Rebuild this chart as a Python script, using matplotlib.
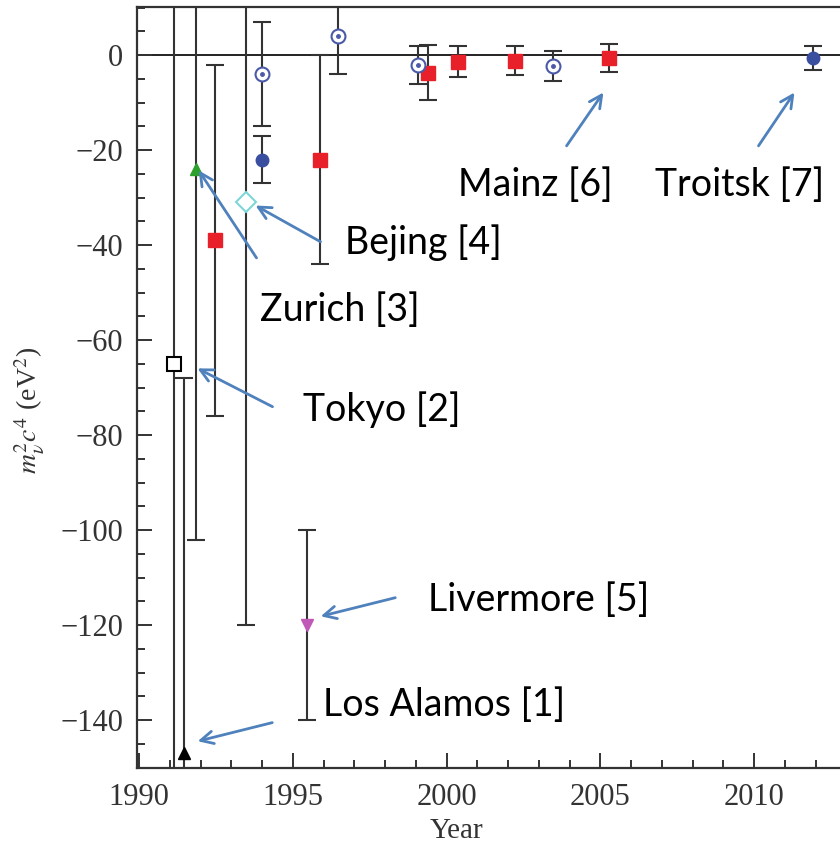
import matplotlib
matplotlib.use("Agg")
import matplotlib.pyplot as plt
from matplotlib.ticker import MultipleLocator

plt.rcParams['mathtext.fontset'] = 'stix'

# data: year, m^2 value (eV^2), error
los_alamos_year = [1991.45]
los_alamos_val = [-147]
los_alamos_err = [79]

tokyo_year = [1991.14]
tokyo_val = [-65]
tokyo_err = [107]

zurich_year = [1991.85]
zurich_val = [-24]
zurich_err = [78]

mainz_year = [1992.47, 1995.88, 1999.4, 2000.37, 2002.22, 2005.28]
mainz_val = [-39, -22, -3.7, -1.4, -1.2, -0.6]
mainz_err = [37, 22, 5.8, 3.2, 3.0, 3.0]

beijing_year = [1993.48]
beijing_val = [-31]
beijing_err = [89]

troitsk_open_year = [1994.0, 1996.47, 1999.07, 2003.46]
troitsk_open_val = [-4, 4, -2, -2.3]
troitsk_open_err = [11, 8, 4, 3.1]

troitsk_year = [1994.0, 2011.9]
troitsk_val = [-22, -0.7]
troitsk_err = [5, 2.5]

livermore_year = [1995.46]
livermore_val = [-120]
livermore_err = [20]

# labels: text, text position, arrow tail, arrow head (data coords)
labels = ["Mainz [6]", "Troitsk [7]", "Bejing [4]", "Zurich [3]",
          "Tokyo [2]", "Livermore [5]", "Los Alamos [1]"]
label_pos = [(2000.37, -27.4), (2006.78, -27.4), (1996.7, -39.6), (1993.93, -53.7),
             (1995.33, -74.7), (1999.4, -114.7), (1995.98, -136.8)]
arrow_tail = [(2003.85, -19.6), (2010.09, -19.6), (1995.98, -39.6), (1993.87, -43.2),
              (1994.42, -74.3), (1998.42, -114.1), (1994.42, -140.4)]
arrow_head = [(2005.15, -7.4), (2011.36, -7.4), (1993.71, -31.4), (1991.89, -23.8),
              (1991.82, -65.7), (1995.82, -118.3), (1991.82, -144.6)]

fig = plt.figure(figsize=(8.4, 8.48), dpi=100)
ax = fig.add_axes([0.1631, 0.0943, 0.8369, 0.8974])

ax.axhline(0, color='#222222', lw=1.4, zorder=1)

eb = dict(fmt='none', ecolor='#333333', elinewidth=1.5, capsize=6.5, capthick=1.5, zorder=2)
for yr, v, e in [(los_alamos_year, los_alamos_val, los_alamos_err),
                 (tokyo_year, tokyo_val, tokyo_err),
                 (zurich_year, zurich_val, zurich_err),
                 (mainz_year, mainz_val, mainz_err),
                 (beijing_year, beijing_val, beijing_err),
                 (troitsk_open_year, troitsk_open_val, troitsk_open_err),
                 (troitsk_year, troitsk_val, troitsk_err),
                 (livermore_year, livermore_val, livermore_err)]:
    ax.errorbar(yr, v, yerr=e, **eb)

ax.plot(los_alamos_year, los_alamos_val, '^', color='black', ms=8, zorder=3)
ax.plot(tokyo_year, tokyo_val, 's', mfc='white', mec='black', mew=1.5, ms=10, zorder=3)
ax.plot(zurich_year, zurich_val, '^', color='#2ca02c', ms=8, zorder=3)
ax.plot(mainz_year, mainz_val, 's', color='#e8202a', ms=10, zorder=3)
ax.plot(beijing_year, beijing_val, 'D', mfc='white', mec='#7fd6d6', mew=1.5, ms=10, zorder=3)
ax.plot(troitsk_open_year, troitsk_open_val, 'o', mfc='white', mec='#4a5aa8', mew=1.5, ms=10, zorder=3)
ax.plot(troitsk_open_year, troitsk_open_val, 'o', color='#4a5aa8', ms=2.5, zorder=4)
ax.plot(troitsk_year, troitsk_val, 'o', color='#3a4ea0', ms=9, zorder=3)
ax.plot(livermore_year, livermore_val, 'v', color='#c058b8', ms=9, zorder=3)

for txt, pos, tail, head in zip(labels, label_pos, arrow_tail, arrow_head):
    ax.annotate('', xy=head, xytext=tail,
                arrowprops=dict(arrowstyle='->,head_length=0.9,head_width=0.45',
                                color='#4f81bd', lw=2), zorder=5)
    ax.text(pos[0], pos[1], txt, fontsize=27, family='Lato', color='black',
            ha='left', va='center', zorder=5)

ax.set_xlim(1989.935, 2012.79)
ax.set_ylim(-150.1, 10.1)
ax.xaxis.set_major_locator(MultipleLocator(5))
ax.xaxis.set_minor_locator(MultipleLocator(1))
ax.yaxis.set_major_locator(MultipleLocator(20))
ax.yaxis.set_minor_locator(MultipleLocator(5))
ax.tick_params(which='both', direction='in', top=False, right=False, width=1.4,
               labelsize=22, labelcolor='#333333', colors='#333333')
ax.tick_params(which='major', length=11)
ax.tick_params(which='minor', length=6)
ax.tick_params(axis='x', which='major', pad=11)
ax.tick_params(axis='y', which='major', pad=10)
for lab in ax.get_xticklabels() + ax.get_yticklabels():
    lab.set_family('Liberation Serif')
ax.set_yticks([0, -20, -40, -60, -80, -100, -120, -140])
ax.set_yticklabels(['0', '\u221220', '\u221240', '\u221260', '\u221280',
                    '\u2212100', '\u2212120', '\u2212140'], family='Liberation Serif')

for s in ['left', 'bottom', 'top']:
    ax.spines[s].set_linewidth(1.6)
    ax.spines[s].set_color('#333333')
ax.spines['right'].set_visible(False)

ax.set_xlabel('Year', fontsize=21, family='Liberation Serif', color='#333333')
ax.xaxis.set_label_coords(0.455, -0.066)
ax.set_ylabel(r'$m_{\nu}^{2}c^{4}$ (eV$^{2}$)', fontsize=20, family='Liberation Serif', color='#333333')
ax.yaxis.set_label_coords(-0.128, 0.47)

fig.savefig('out.png', dpi=100)
